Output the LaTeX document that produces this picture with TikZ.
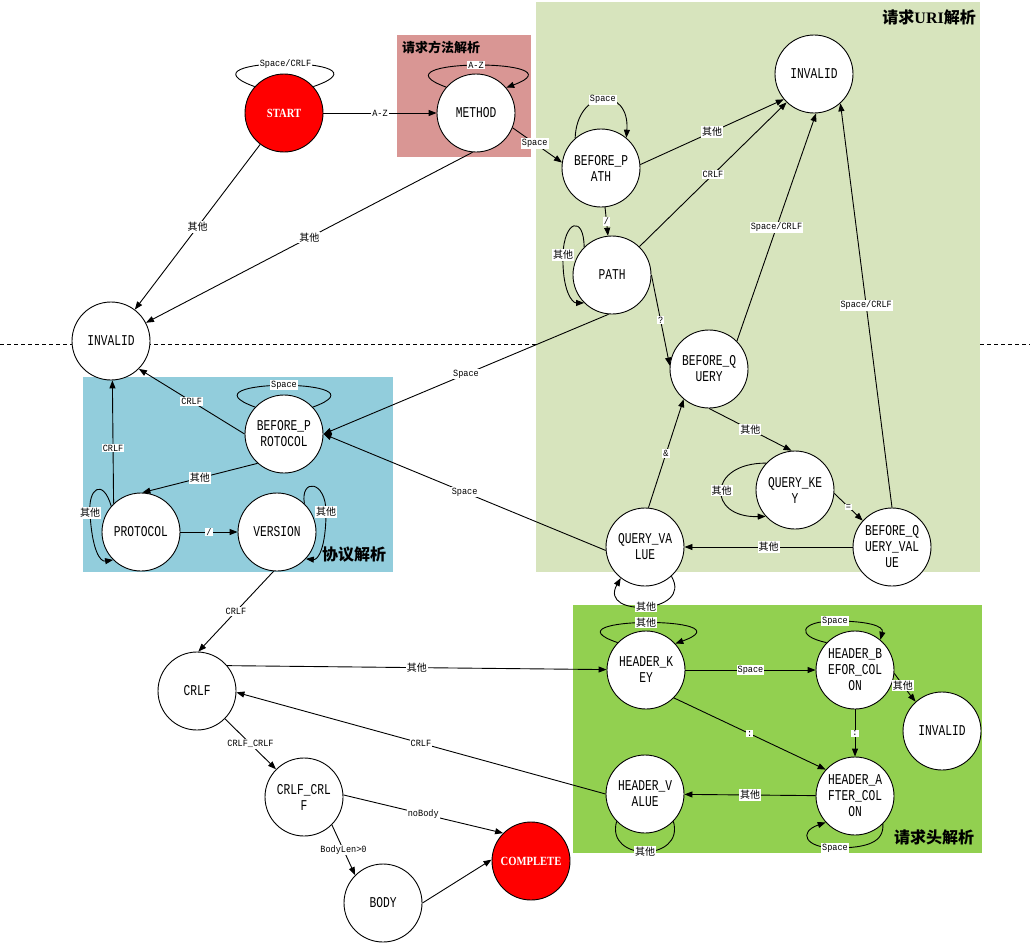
\documentclass[tikz,border=0pt]{standalone}
\usepackage{fontspec}
\usetikzlibrary{arrows.meta}
\setmainfont{Liberation Serif}
\newfontfamily\statefont{Liberation Mono}[FakeStretch=0.75]
\newfontfamily\edgefont{Liberation Mono}[FakeStretch=0.9]
\newfontfamily\termfont{Liberation Serif}[FakeStretch=0.85,UprightFont={* Bold}]
\newfontfamily\cjk{Noto Sans CJK SC}
\newcommand\qita{{\cjk\fontsize{10}{10}\selectfont 其他}}
\definecolor{methodbg}{HTML}{D99694}
\definecolor{uribg}{HTML}{D7E4BD}
\definecolor{protobg}{HTML}{92CDDC}
\definecolor{headerbg}{HTML}{92D050}
\begin{document}
\begin{tikzpicture}[x=1pt,y=-1pt,
  st/.style={circle,draw,fill=white,minimum size=78pt,inner sep=0pt,align=center,
    line width=0.9pt,font=\fontsize{15}{16}\selectfont\statefont},
  term/.style={st,fill=red,text=white,font=\fontsize{12.5}{13}\selectfont\termfont},
  tr/.style={draw,line width=0.9pt,-{Triangle[length=8pt,width=6pt]}},
  lp/.style={draw,line width=0.9pt},
  lbl/.style={fill=white,inner sep=1pt,font=\fontsize{9.5}{10}\selectfont\edgefont},
  ttl/.style={inner sep=0pt,font=\fontsize{16}{16}\selectfont\cjk\bfseries}]
\useasboundingbox (0,0) rectangle (1030,942);
\fill[white] (0,0) rectangle (1030,942);

% separator between request line and the rest
\draw[line width=0.9pt,dash pattern=on 4pt off 3pt] (0,344) -- (1030,344);

% parsing stages
\fill[methodbg] (397,35) rectangle (531,157);
\fill[uribg] (536,2) rectangle (980,572);
\fill[protobg] (83,377) rectangle (393,572);
\fill[headerbg] (573,605) rectangle (982,853);

\node[ttl,anchor=west,font=\fontsize{13}{13}\selectfont\cjk\bfseries] (tmethod) at (402,47) {请求方法解析};
\node[ttl,anchor=east] (turi) at (976,17) {请求{\rmfamily\bfseries URI}解析};
\node[ttl,anchor=west] (tproto) at (322,555) {协议解析};
\node[ttl,anchor=west] (theader) at (894,837) {请求头解析};

% states
\node[term] (start) at (284,113) {START};
\node[st] (method) at (476,113) {METHOD};
\node[st] (inv1) at (111,341) {INVALID};
\node[st] (inv2) at (814,74) {INVALID};
\node[st] (bp) at (601,168) {BEFORE\_P\\ATH};
\node[st] (path) at (612,275) {PATH};
\node[st] (bq) at (709,369) {BEFORE\_Q\\UERY};
\node[st] (qk) at (795,490) {QUERY\_KE\\Y};
\node[st] (bqv) at (892,547) {BEFORE\_Q\\UERY\_VAL\\UE};
\node[st] (qv) at (645,547) {QUERY\_VA\\LUE};
\node[st] (bprot) at (284,434) {BEFORE\_P\\ROTOCOL};
\node[st] (prot) at (141,532) {PROTOCOL};
\node[st] (ver) at (277,532) {VERSION};
\node[st] (crlf) at (197,691) {CRLF};
\node[st] (cc) at (304,797) {CRLF\_CRL\\F};
\node[st] (body) at (383,903) {BODY};
\node[term] (comp) at (531,861) {COMPLETE};
\node[st] (hk) at (646,670) {HEADER\_K\\EY};
\node[st] (hbc) at (855,670) {HEADER\_B\\EFOR\_COL\\ON};
\node[st] (inv3) at (942,731) {INVALID};
\node[st] (hac) at (855,796) {HEADER\_A\\FTER\_COL\\ON};
\node[st] (hv) at (645,794) {HEADER\_V\\ALUE};

% request method
\draw[lp] (start.138) .. controls (170,56) and (402,56) .. (start.42) node[lbl,pos=.5]{Space/CRLF};
\draw[tr] (start) -- (method) node[lbl,midway]{A-Z};
\draw[tr] (method.139) .. controls (366,58) and (586,58) .. (method.40) node[lbl,pos=.5]{A-Z};
\draw[tr] (method.-22) -- (bp.172) node[lbl,pos=.45]{Space};
\draw[tr] (start) -- (inv1) node[lbl,midway]{\qita};
\draw[tr] (method.-95) -- (inv1) node[lbl,midway]{\qita};

% request URI
\draw[tr] (bp.131) .. controls (577,88) and (630,86) .. (bp.50) node[lbl,pos=.5]{Space};
\draw[tr] (bp.5) -- (inv2.-140) node[lbl,midway]{\qita};
\draw[tr] (bp) -- (path) node[lbl,midway]{/};
\draw[tr] (path.135) .. controls (584,215) and (564,220) .. (563,255) node[lbl]{\qita}
  .. controls (562,290) and (572,303) .. (path.225);
\draw[tr] (path.46) -- (inv2.-134) node[lbl,midway]{CRLF};
\draw[tr] (path.east) -- (bq.175) node[lbl,midway]{?};
\draw[tr] (path.-95) -- (bprot.east) node[lbl,midway]{Space};
\draw[tr] (bq.45) -- (inv2.-87) node[lbl,midway]{Space/CRLF};
\draw[tr] (bqv.north) -- (inv2.-48) node[lbl,midway]{Space/CRLF};
\draw[tr] (bq.south) -- (qk.95) node[lbl,midway]{\qita};
\draw[tr] (qk.137) .. controls (707,463) and (707,518) .. (qk.222) node[lbl,pos=.5]{\qita};
\draw[tr] (qk.-5) -- (bqv.138) node[lbl,midway]{=};
\draw[tr] (bqv) -- (qv) node[lbl,midway]{\qita};
\draw[tr] (qv.85) -- (bq.-130) node[lbl,midway]{\&};
\draw[tr] (qv.185) -- (bprot.east) node[lbl,midway]{Space};
\draw[tr] (qv.-48) .. controls (694,614) and (598,618) .. (qv.-128) node[lbl,pos=.5]{\qita};

% protocol
\draw[lp] (bprot.137) .. controls (175,378) and (393,378) .. (bprot.43) node[lbl,pos=.5]{Space};
\draw[tr] (bprot.west) -- (inv1.-45) node[lbl,midway]{CRLF};
\draw[tr] (bprot.-132) -- (prot.88) node[lbl,midway]{\qita};
\draw[tr] (prot.134) -- (inv1.-88) node[lbl,pos=.45]{CRLF};
\draw[tr] (prot.139) .. controls (103,478) and (88,488) .. (90,513) node[lbl]{\qita}
  .. controls (92,550) and (100,562) .. (prot.225);
\draw[tr] (prot) -- (ver) node[lbl,midway]{/};
\draw[tr] (ver.46) .. controls (300,478) and (326,480) .. (326,512) node[lbl]{\qita}
  .. controls (326,548) and (318,560) .. (ver.-43);
\draw[tr] (ver.-95) -- (crlf.88) node[lbl,midway]{CRLF};

% headers and body
\draw[tr] (crlf.40) -- (hk) node[lbl,midway]{\qita};
\draw[tr] (hv.west) -- (crlf.-2) node[lbl,midway]{CRLF};
\draw[tr] (crlf) -- (cc) node[lbl,midway]{CRLF\_CRLF};
\draw[tr] (cc.3) -- (comp.135) node[lbl,midway]{noBody};
\draw[tr] (cc.-45) -- (body.135) node[lbl,midway]{BodyLen>0};
\draw[tr] (body.east) -- (comp.178);

\draw[tr] (hk.136) .. controls (540,616) and (752,616) .. (hk.42) node[lbl,pos=.5]{\qita};
\draw[tr] (hk) -- (hbc) node[lbl,midway]{Space};
\draw[tr] (hk.-45) -- (hac.138) node[lbl,midway]{:};
\draw[tr] (hbc.136) .. controls (795,636) and (800,621) .. (835,621) node[lbl]{Space}
  .. controls (868,621) and (884,626) .. (hbc.50);
\draw[tr] (hbc.-5) .. controls (902,685) .. (inv3.132) node[lbl,pos=.5]{\qita};
\draw[tr] (hbc) -- (hac) node[lbl,midway]{:};
\draw[tr] (hac) -- (hv) node[lbl,midway]{\qita};
\draw[tr] (hac.-45) .. controls (884,842) and (868,848) .. (835,848) node[lbl]{Space}
  .. controls (805,848) and (798,832) .. (hac.-138);
\draw[lp] (hv.-136) .. controls (605,862) and (685,862) .. (hv.-44) node[lbl,pos=.5]{\qita};
\end{tikzpicture}
\end{document}
